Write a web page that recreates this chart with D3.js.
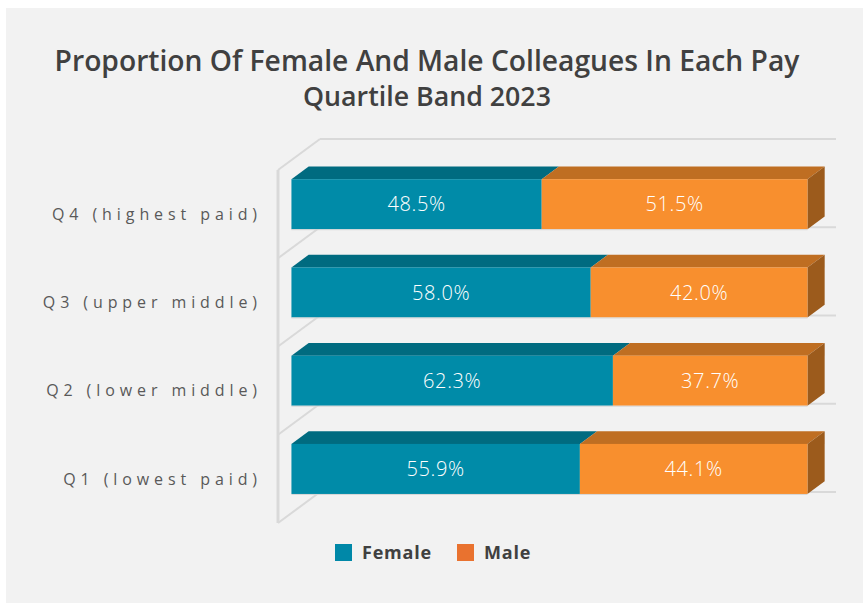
<!DOCTYPE html>
<html>
<head>
<meta charset="utf-8">
<script src="https://cdn.jsdelivr.net/npm/d3@7"></script>
<style>
  body { margin: 0; background: #fff; }
  text { font-family: "Open Sans", Lato, sans-serif; }
</style>
</head>
<body>
<div id="chart"></div>
<script>
// data
const categories = ["Q4 (highest paid)", "Q3 (upper middle)", "Q2 (lower middle)", "Q1 (lowest paid)"];
const female = [48.5, 58.0, 62.3, 55.9];
const male = [51.5, 42.0, 37.7, 44.1];
const seriesNames = ["Female", "Male"];
const titleLines = ["Proportion Of Female And Male Colleagues In Each Pay", "Quartile Band 2023"];

const width = 863, height = 603;
const depth = { x: 42, y: -31 };   // full depth of the 3d box
const barDepth = [0.32, 0.73];     // front / back of the bars as a fraction of depth

const colors = {
  Female: { front: "#008ba8", top: "#006b80", side: "#005f72", legend: "#0088a8" },
  Male: { front: "#f88f2e", top: "#bf6e22", side: "#9c5b1c", legend: "#e9722f" }
};

const svg = d3.select("#chart").append("svg")
  .attr("width", width)
  .attr("height", height);

svg.append("rect")
  .attr("x", 6).attr("y", 8)
  .attr("width", width - 6).attr("height", height - 8)
  .attr("fill", "#f2f2f2");

// scales on the front plane
const x = d3.scaleLinear().domain([0, 100]).range([278, 794]);
const y = d3.scaleBand().domain(categories).range([170, 523]).paddingInner(0.433).paddingOuter(0.2165);
const band = d3.scaleBand().domain(categories).range([170, 523]);

// offset a point by a fraction of the depth
const off = (px, py, d) => [px + d * depth.x, py + d * depth.y];

// walls and gridlines
const grid = svg.append("g").attr("class", "grid")
  .attr("stroke", "#d9d9d9").attr("fill", "none");

const bounds = categories.map(c => band(c)).concat([band.range()[1]]);

// back wall lines
grid.selectAll(".back")
  .data(bounds)
  .enter().append("line")
  .attr("x1", x(0) + depth.x).attr("x2", x(100) + depth.x)
  .attr("y1", d => d + depth.y).attr("y2", d => d + depth.y)
  .attr("stroke-width", 2);

// side wall diagonals
grid.selectAll(".diag")
  .data(bounds)
  .enter().append("line")
  .attr("x1", x(0)).attr("y1", d => d)
  .attr("x2", x(0) + depth.x).attr("y2", d => d + depth.y)
  .attr("stroke-width", 2);

grid.append("line")
  .attr("x1", x(0)).attr("x2", x(0))
  .attr("y1", band.range()[0]).attr("y2", band.range()[1])
  .attr("stroke-width", 3);

// bars
const rows = categories.map((c, i) => ({
  cat: c,
  segs: [
    { name: "Female", x0: 0, x1: female[i], value: female[i] },
    { name: "Male", x0: female[i], x1: female[i] + male[i], value: male[i] }
  ]
}));

const d0 = barDepth[0], d1 = barDepth[1], dd = d1 - d0;
const poly = pts => "M" + pts.map(p => p.join(",")).join("L") + "Z";

const bar = svg.selectAll(".bar")
  .data(rows)
  .enter().append("g")
  .attr("class", "bar");

bar.each(function(r) {
  const g = d3.select(this);
  const yt = y(r.cat), yb = y(r.cat) + y.bandwidth();
  r.segs.forEach((s, j) => {
    const [fx0, fy0] = off(x(s.x0), yt, d0);
    const [fx1, fy1] = off(x(s.x1), yb, d0);
    const c = colors[s.name];
    // top face
    g.append("path")
      .attr("d", poly([[fx0, fy0], [fx1, fy0], [fx1 + dd * depth.x, fy0 + dd * depth.y], [fx0 + dd * depth.x, fy0 + dd * depth.y]]))
      .attr("fill", c.top);
    // side face of last segment
    if (j === r.segs.length - 1) {
      g.append("path")
        .attr("d", poly([[fx1, fy0], [fx1 + dd * depth.x, fy0 + dd * depth.y], [fx1 + dd * depth.x, fy1 + dd * depth.y], [fx1, fy1]]))
        .attr("fill", c.side);
    }
    // front face
    g.append("rect")
      .attr("x", fx0).attr("y", fy0)
      .attr("width", fx1 - fx0).attr("height", fy1 - fy0)
      .attr("fill", c.front);
    g.append("text")
      .attr("x", (fx0 + fx1) / 2)
      .attr("y", (fy0 + fy1) / 2)
      .attr("dy", "0.36em")
      .attr("text-anchor", "middle")
      .attr("fill", "#ffffff")
      .style("font-size", "20px")
      .style("font-weight", 300)
      .style("letter-spacing", "0.6px")
      .text(s.value.toFixed(1) + "%");
  });
  // thin light edge under the front faces
  const [lx, ly] = off(x(0), yb, d0);
  const [rx] = off(x(100), yb, d0);
  g.append("line")
    .attr("x1", lx).attr("x2", rx).attr("y1", ly + 0.5).attr("y2", ly + 0.5)
    .attr("stroke", "#d6d6d6").attr("stroke-width", 1);
});

// category labels, spaced out to the reference width
const cats = svg.selectAll(".cat")
  .data(categories)
  .enter().append("text")
  .attr("class", "cat")
  .attr("x", 262)
  .attr("y", d => band(d) + band.bandwidth() / 2)
  .attr("dy", "0.36em")
  .attr("text-anchor", "end")
  .attr("fill", "#595959")
  .style("font-size", "16px")
  .text(d => d);
const w0 = cats.nodes()[0].getComputedTextLength();
const spacing = (210 - w0) / categories[0].length;
cats.style("letter-spacing", spacing.toFixed(2) + "px");

// title, sized to the reference width
const titleWidths = [745, 248];
const titleY = [71, 106];
titleLines.forEach((t, i) => {
  const tt = svg.append("text")
    .attr("x", 427)
    .attr("y", titleY[i])
    .attr("text-anchor", "middle")
    .attr("fill", "#404040")
    .style("font-size", "25px")
    .style("font-weight", 600)
    .text(t);
  const w = tt.node().getComputedTextLength();
  tt.style("font-size", (25 * titleWidths[i] / w).toFixed(2) + "px");
});

// legend
const legendX = [335, 457];
const legend = svg.selectAll(".legend")
  .data(seriesNames)
  .enter().append("g")
  .attr("class", "legend")
  .attr("transform", (d, i) => `translate(${legendX[i]},544)`);

legend.append("rect")
  .attr("width", 17).attr("height", 17)
  .attr("fill", d => colors[d].legend);

legend.append("text")
  .attr("x", 27).attr("y", 14.5)
  .attr("fill", "#404040")
  .style("font-size", "18px")
  .style("font-weight", 700)
  .style("letter-spacing", "0.8px")
  .text(d => d);
</script>
</body>
</html>
